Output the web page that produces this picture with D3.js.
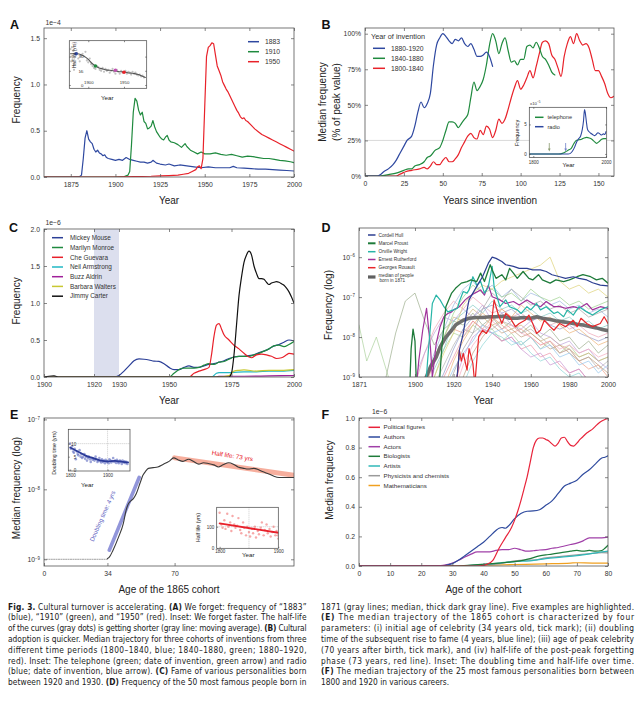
<!DOCTYPE html>
<html><head><meta charset="utf-8">
<script src="https://cdn.jsdelivr.net/npm/d3@7"></script>
<style>body{margin:0;background:#fff}</style>
</head><body>
<script>
// ================= DATA =================
// Panel A: frequency of year strings (units 1e-4)
const a1883 = [[1860,0],[1875,0],[1880,0.005],[1881,0.02],[1882,0.2],[1883,0.42],[1884,0.50],[1885,0.41],[1886,0.38],[1887,0.36],[1888,0.30],[1889,0.27],[1890,0.29],[1891,0.26],[1892,0.25],[1893,0.23],[1894,0.24],[1895,0.21],[1896,0.20],[1898,0.19],[1900,0.18],[1902,0.19],[1904,0.18],[1906,0.21],[1908,0.19],[1910,0.18],[1912,0.17],[1914,0.16],[1916,0.16],[1918,0.15],[1920,0.16],[1921,0.18],[1923,0.15],[1925,0.14],[1928,0.13],[1930,0.14],[1933,0.12],[1936,0.13],[1940,0.12],[1944,0.11],[1948,0.10],[1952,0.11],[1956,0.10],[1960,0.10],[1964,0.10],[1966,0.115],[1968,0.10],[1972,0.095],[1976,0.09],[1980,0.085],[1984,0.085],[1988,0.08],[1992,0.075],[1996,0.07],[2000,0.065]];
const a1910 = [[1860,0],[1900,0],[1905,0.005],[1907,0.02],[1908,0.06],[1909,0.35],[1910,0.70],[1911,0.85],[1912,0.82],[1913,0.72],[1914,0.67],[1915,0.70],[1916,0.60],[1917,0.58],[1918,0.52],[1919,0.53],[1920,0.55],[1921,0.61],[1922,0.54],[1923,0.49],[1924,0.46],[1925,0.43],[1926,0.41],[1927,0.40],[1928,0.43],[1929,0.45],[1930,0.40],[1931,0.38],[1933,0.37],[1935,0.35],[1937,0.32],[1939,0.36],[1940,0.33],[1942,0.29],[1944,0.27],[1946,0.25],[1948,0.27],[1950,0.25],[1953,0.25],[1956,0.26],[1959,0.245],[1962,0.235],[1965,0.245],[1968,0.23],[1971,0.215],[1974,0.225],[1977,0.22],[1980,0.21],[1983,0.20],[1986,0.20],[1989,0.19],[1992,0.18],[1995,0.175],[1998,0.165],[2000,0.155]];
const a1950 = [[1860,0],[1900,0],[1910,0.005],[1920,0.008],[1925,0.012],[1930,0.015],[1935,0.02],[1938,0.03],[1941,0.04],[1943,0.06],[1945,0.08],[1946,0.11],[1947,0.12],[1948,0.09],[1949,0.20],[1950,0.75],[1951,1.30],[1952,1.40],[1953,1.42],[1954,1.45],[1955,1.44],[1956,1.32],[1957,1.20],[1958,1.15],[1959,1.10],[1960,1.03],[1961,0.99],[1962,0.95],[1963,0.92],[1964,0.88],[1965,0.84],[1966,0.80],[1967,0.76],[1968,0.72],[1969,0.69],[1970,0.65],[1971,0.63],[1972,0.64],[1973,0.61],[1974,0.60],[1976,0.56],[1978,0.52],[1980,0.49],[1982,0.46],[1984,0.44],[1986,0.42],[1988,0.40],[1990,0.38],[1992,0.36],[1994,0.34],[1996,0.32],[1998,0.30],[2000,0.28]];
const aLabels = ["1883","1910","1950"];
// Panel A inset: half-life (yrs)
const aInsetDots = [[1875,38],[1877,40],[1879,36],[1876,30],[1878,27],[1880,22],[1881,33],[1884,34],[1886,28],[1888,25],[1890,31],[1892,33],[1894,30],[1896,35],[1898,26],[1900,24],[1902,28],[1904,22],[1906,20],[1908,18],[1910,17],[1912,20],[1914,19],[1916,16],[1918,15],[1920,18],[1922,14],[1924,17],[1926,15],[1928,16],[1930,13],[1932,15],[1934,17],[1936,14],[1938,12],[1940,16],[1942,14],[1944,12],[1946,15],[1948,13],[1952,15],[1954,12],[1956,14],[1958,13],[1960,11],[1962,14],[1964,12],[1966,13],[1968,11],[1970,10],[1972,11],[1974,9],[1976,10],[1978,8],[1880,16],[1890,14],[1876,25]];
const aInsetAvg = [[1875,33],[1885,33],[1890,32],[1895,30],[1900,27],[1905,23],[1910,20],[1915,18],[1920,17],[1925,16],[1930,15.5],[1935,15],[1940,14.5],[1945,14],[1950,14],[1955,13],[1960,12.5],[1965,12],[1970,11],[1975,9.5],[1980,8]];
const aInsetMarks = [[1883,33],[1910,20],[1938,15.5],[1950,13.5]];

// Panel B: % of peak value vs years since invention
const bBlue = [[0,0],[8,0],[10,1],[12,3],[15,5],[18,8],[20,11],[22,15],[25,21],[27,25],[30,28],[32,35],[34,45],[36,52],[38,48],[40,51],[42,58],[44,78],[46,92],[48,97],[50,100],[52,98],[54,95],[56,93],[58,96],[60,95],[62,97],[64,93],[66,91],[68,93],[70,89],[72,84],[74,84],[76,85],[78,87],[80,84],[82,77]];
const bGreen = [[0,0],[10,0],[15,1],[20,2],[25,4],[28,5],[30,5],[32,7],[35,8],[38,10],[40,13],[42,14],[45,18],[48,20],[50,25],[52,32],[54,38],[56,38],[58,37],[60,34],[62,37],[64,40],[66,43],[68,55],[70,66],[72,60],[74,63],[76,68],[78,78],[80,92],[82,100],[84,95],[86,86],[88,93],[90,97],[92,88],[94,80],[96,81],[98,78],[100,82],[102,82],[104,91],[106,92],[108,90],[110,94],[112,90],[114,84],[116,82],[118,78],[120,73],[122,71]];
const bRed = [[0,0],[20,0],[22,1],[24,2],[26,3],[30,4],[35,5],[38,6],[40,5],[42,7],[44,10],[46,8],[48,8],[50,11],[52,13],[54,10],[56,10],[58,12],[60,15],[62,20],[64,24],[66,28],[68,30],[70,27],[72,26],[74,32],[76,29],[78,35],[80,33],[82,27],[84,32],[86,40],[88,37],[90,40],[92,47],[94,55],[96,62],[98,67],[100,61],[102,64],[104,69],[106,74],[108,69],[110,77],[112,86],[114,94],[116,95],[118,93],[120,85],[122,82],[124,76],[126,70],[128,84],[130,93],[132,98],[134,93],[136,100],[138,95],[140,92],[142,93],[144,90],[146,82],[148,74],[150,74],[152,70],[154,65],[156,58],[158,55],[160,56]];
const bLabels = ["1880-1920","1840-1880","1800-1840"];
// Panel B inset (x1e-5)
const bTel = [[1790,0],[1870,0],[1880,0.1],[1887,0.3],[1895,0.6],[1905,1.0],[1912,1.8],[1919,2.3],[1926,2.4],[1933,2.5],[1940,2.7],[1947,2.8],[1954,2.7],[1961,2.5],[1968,2.1],[1974,1.8],[1981,2.1],[1988,2.5],[1994,2.6],[2000,2.6]];
const bRadio = [[1790,0],[1896,0],[1902,0.1],[1908,0.5],[1914,1.2],[1919,2.0],[1925,2.6],[1930,3.0],[1935,4.2],[1938,5.5],[1941,7.5],[1943,7.0],[1946,5.5],[1949,4.2],[1953,3.8],[1958,3.5],[1963,3.3],[1968,3.1],[1973,3.3],[1978,3.6],[1983,3.4],[1988,3.2],[1993,3.4],[1997,3.3],[2000,3.8]];
const bArrows = [1844,1889];

// Panel C (units 1e-6)
const cMickey = [[1900,0],[1928,0],[1930,0.02],[1932,0.08],[1934,0.15],[1936,0.22],[1938,0.245],[1940,0.24],[1942,0.23],[1944,0.215],[1946,0.21],[1948,0.18],[1950,0.13],[1952,0.10],[1954,0.10],[1956,0.13],[1958,0.15],[1960,0.13],[1962,0.13],[1964,0.15],[1966,0.17],[1968,0.18],[1970,0.20],[1972,0.22],[1974,0.25],[1976,0.27],[1978,0.28],[1980,0.28],[1982,0.29],[1984,0.30],[1986,0.33],[1988,0.35],[1990,0.38],[1992,0.42],[1994,0.44],[1996,0.47],[1998,0.50],[2000,0.49]];
const cMarilyn = [[1900,0],[1950,0],[1952,0.05],[1954,0.10],[1956,0.12],[1958,0.12],[1960,0.12],[1962,0.13],[1964,0.16],[1966,0.18],[1968,0.17],[1970,0.20],[1972,0.21],[1974,0.24],[1976,0.27],[1978,0.28],[1980,0.28],[1982,0.28],[1984,0.30],[1986,0.32],[1988,0.35],[1990,0.38],[1992,0.42],[1994,0.43],[1996,0.41],[1998,0.44],[2000,0.48]];
const cChe = [[1900,0],[1958,0],[1960,0.05],[1962,0.08],[1964,0.10],[1966,0.13],[1967,0.30],[1968,0.55],[1969,0.70],[1970,0.72],[1971,0.65],[1972,0.57],[1974,0.50],[1976,0.43],[1978,0.38],[1980,0.32],[1982,0.27],[1983,0.26],[1985,0.30],[1987,0.31],[1989,0.30],[1991,0.28],[1993,0.25],[1995,0.26],[1997,0.30],[1998,0.32],[2000,0.31]];
const cNeil = [[1900,0],[1967,0],[1969,0.05],[1970,0.06],[1975,0.06],[1980,0.07],[1985,0.07],[1990,0.08],[1995,0.08],[2000,0.09]];
const cBuzz = [[1900,0],[1969,0],[1970,0.01],[1980,0.01],[1990,0.015],[2000,0.02]];
const cBarbara = [[1900,0],[1970,0],[1974,0.02],[1976,0.08],[1978,0.09],[1980,0.095],[1985,0.08],[1990,0.09],[1995,0.09],[2000,0.10]];
const cJimmy = [[1900,0],[1902,0.01],[1904,0.015],[1906,0],[1974,0],[1975,0.05],[1976,0.3],[1977,0.7],[1978,1.1],[1979,1.35],[1980,1.55],[1981,1.65],[1982,1.70],[1983,1.65],[1984,1.50],[1985,1.40],[1986,1.33],[1987,1.33],[1988,1.32],[1989,1.28],[1990,1.25],[1991,1.27],[1992,1.28],[1993,1.29],[1994,1.28],[1995,1.26],[1996,1.24],[1997,1.20],[1998,1.15],[1999,1.08],[2000,1.00]];
const cNames = ["Mickey Mouse","Marilyn Monroe","Che Guevara","Neil Armstrong","Buzz Aldrin","Barbara Walters","Jimmy Carter"];
const cBand = [1920,1930];

// Panel D (log10 of frequency)
const yearsD = [1871,1875,1880,1885,1890,1895,1900,1905,1910,1915,1920,1925,1930,1935,1940,1945,1950,1955,1960,1965,1970,1975,1980,1985,1990,1995,2000];
const dBg1 = [-7.7,-8.6,-8.0,-8.8,-9.6,-9.6,-9.6,-9.6,-9.0,-8.3,-7.9,-8.0,-7.7,-7.9,-7.8,-8.1,-7.9,-8.2,-8.0,-8.3,-8.1,-8.4,-8.2,-8.5,-8.4,-8.6,-8.5];
const dBg2 = [-9.6,-9.6,-9.6,-9.0,-7.9,-7.1,-6.9,-7.6,-8.2,-7.8,-7.6,-7.7,-7.4,-7.7,-7.5,-7.8,-7.6,-7.9,-7.7,-8.0,-7.8,-8.1,-8.0,-8.3,-8.1,-8.4,-8.2];
const dBg3 = [-9.6,-9.6,-9.6,-9.6,-9.6,-9.6,-9.2,-8.4,-7.8,-7.4,-7.1,-7.3,-7.0,-7.2,-7.4,-7.3,-7.5,-7.4,-7.6,-7.5,-7.7,-7.6,-7.8,-7.7,-7.9,-8.0,-7.9];
const dBg4 = [-9.6,-9.6,-9.6,-9.6,-9.6,-9.6,-9.6,-9.1,-8.4,-7.8,-7.2,-6.8,-6.6,-6.9,-6.7,-7.0,-6.8,-7.1,-6.9,-7.0,-7.2,-7.1,-7.3,-7.2,-7.4,-7.3,-7.5];
const dBg5 = [-9.6,-9.6,-9.6,-9.6,-9.6,-9.6,-9.6,-9.1,-8.5,-8.0,-7.5,-7.6,-7.3,-7.5,-7.7,-7.6,-7.8,-7.7,-7.9,-8.1,-8.0,-8.2,-8.3,-8.5,-8.4,-8.6,-8.5];
const dBg6 = [-9.6,-9.6,-9.6,-9.6,-9.6,-9.6,-9.0,-8.4,-7.9,-7.5,-7.6,-7.3,-7.5,-7.2,-7.6,-7.4,-7.7,-7.8,-7.6,-7.9,-8.0,-8.2,-8.1,-8.4,-8.3,-8.6,-8.8];
const dBg7 = [-9.6,-9.6,-9.6,-9.6,-9.6,-9.6,-9.6,-9.6,-9.0,-8.4,-7.9,-7.2,-6.9,-6.7,-6.8,-6.6,-6.5,-6.4,-6.3,-6.2,-6.0,-6.6,-6.8,-6.7,-6.9,-6.8,-7.0];
const dBg8 = [-9.6,-9.6,-9.6,-9.6,-9.6,-9.6,-9.6,-9.3,-8.6,-8.1,-7.8,-7.9,-7.6,-7.8,-7.5,-7.7,-7.9,-7.8,-8.0,-8.2,-8.1,-8.4,-8.3,-8.6,-8.8,-8.7,-9.0];
const dBg9 = [-9.6,-9.6,-9.6,-9.6,-9.6,-9.6,-9.6,-9.6,-9.2,-8.7,-8.2,-7.8,-7.9,-7.7,-7.8,-7.6,-7.7,-7.9,-7.8,-8.0,-8.2,-8.4,-8.3,-8.6,-8.5,-8.8,-8.6];
const dBg10 = [-9.6,-9.6,-9.6,-9.6,-9.6,-9.6,-9.6,-9.5,-8.8,-8.3,-7.6,-7.4,-7.2,-7.4,-7.1,-7.3,-7.2,-7.4,-7.3,-7.5,-7.4,-7.6,-7.5,-7.7,-7.6,-7.8,-7.7];
const dBg11 = [-9.6,-9.6,-9.6,-9.6,-9.6,-9.6,-9.6,-9.6,-9.6,-9.0,-8.5,-8.0,-7.6,-7.8,-7.9,-8.1,-8.0,-8.3,-8.2,-8.5,-8.4,-8.7,-8.9,-8.8,-9.1,-9.0,-9.3];
const dBg12 = [-9.6,-9.6,-9.6,-9.6,-9.6,-9.6,-9.6,-9.6,-9.4,-8.9,-8.3,-7.8,-7.5,-7.3,-7.2,-7.4,-7.3,-7.5,-7.6,-7.5,-7.7,-7.8,-7.7,-7.9,-8.0,-8.1,-8.0];
const dBg13 = [-9.6,-9.6,-9.6,-9.6,-9.6,-9.6,-9.6,-9.6,-9.6,-9.3,-8.6,-8.1,-7.7,-7.4,-7.6,-7.3,-7.5,-7.2,-7.4,-7.6,-7.5,-7.7,-7.9,-7.8,-8.0,-8.2,-8.1];
const dBg14 = [-9.6,-9.6,-9.6,-9.6,-9.6,-9.6,-9.6,-9.2,-8.5,-8.0,-7.4,-7.0,-6.7,-6.9,-6.8,-7.0,-6.9,-7.1,-6.8,-7.0,-7.1,-7.0,-7.2,-7.1,-7.3,-7.2,-7.1];
const dBg15 = [-9.6,-9.6,-9.6,-9.6,-9.6,-9.6,-9.6,-9.6,-9.6,-9.6,-9.2,-8.5,-8.0,-7.8,-7.9,-8.1,-8.0,-8.3,-8.5,-8.4,-8.7,-8.6,-8.9,-8.8,-9.1,-9.4,-9.2];
const dBg16 = [-9.6,-9.6,-9.6,-9.6,-9.6,-9.6,-9.6,-9.6,-9.6,-9.6,-9.6,-9.0,-8.4,-8.0,-7.7,-7.9,-7.8,-8.0,-7.9,-8.1,-8.3,-8.2,-8.4,-8.6,-8.5,-8.7,-8.9];
const dBg17 = [-9.6,-9.6,-9.6,-9.6,-9.6,-9.6,-9.6,-9.6,-9.6,-9.3,-8.8,-8.4,-8.1,-7.7,-7.9,-7.8,-8.1,-8.2,-8.0,-8.3,-8.2,-8.5,-8.4,-8.7,-8.6,-8.9,-8.7];
const dBg18 = [-9.6,-9.6,-9.6,-9.6,-9.6,-9.6,-9.6,-9.6,-9.6,-9.6,-9.4,-8.7,-8.2,-7.9,-7.6,-7.8,-7.7,-7.9,-8.0,-8.2,-8.1,-8.3,-8.2,-8.4,-8.3,-8.5,-8.4];
const dBg19 = [-9.6,-9.6,-9.6,-9.6,-9.6,-9.6,-9.6,-9.6,-9.6,-9.5,-8.9,-8.3,-7.9,-7.3,-6.9,-7.1,-6.8,-7.0,-7.2,-7.1,-7.3,-7.2,-7.4,-7.3,-7.5,-7.4,-7.3];
const dBg20 = [-9.6,-9.6,-9.6,-9.6,-9.6,-9.6,-9.6,-9.6,-9.6,-9.6,-9.6,-9.2,-8.6,-8.2,-7.9,-8.0,-8.2,-8.1,-8.4,-8.6,-8.5,-8.8,-9.0,-8.9,-9.2,-9.1,-9.4];
const dHull = [[1871,-9.6],[1920,-9.6],[1922,-8.9],[1923,-8.33],[1925,-7.91],[1927,-7.32],[1928,-7.07],[1930,-6.9],[1933,-6.65],[1935,-6.49],[1938,-6.15],[1940,-6.0],[1942,-6.03],[1945,-6.11],[1947,-6.19],[1951,-6.23],[1954,-6.28],[1958,-6.28],[1961,-6.32],[1965,-6.32],[1968,-6.36],[1971,-6.44],[1975,-6.49],[1978,-6.53],[1982,-6.49],[1985,-6.53],[1989,-6.57],[1992,-6.64],[1996,-6.7],[2000,-6.72]];
const dProust = [[1871,-9.6],[1897,-9.6],[1898,-8.3],[1899,-7.8],[1900,-8.1],[1901,-9.6],[1912,-9.6],[1914,-8.2],[1916,-7.24],[1919,-6.9],[1921,-6.78],[1924,-6.65],[1927,-6.61],[1929,-6.57],[1932,-6.61],[1934,-6.4],[1936,-6.61],[1939,-6.19],[1940,-6.32],[1942,-6.53],[1945,-6.44],[1947,-6.57],[1949,-6.28],[1951,-6.4],[1953,-6.53],[1956,-6.36],[1959,-6.53],[1961,-6.57],[1964,-6.44],[1966,-6.57],[1970,-6.65],[1973,-6.57],[1977,-6.61],[1980,-6.57],[1984,-6.49],[1987,-6.44],[1991,-6.49],[1994,-6.57],[1997,-6.53],[2000,-6.65]];
const dWright = [[1871,-9.6],[1905,-9.6],[1907,-8.3],[1908,-7.74],[1909,-7.16],[1911,-6.95],[1913,-7.07],[1915,-7.24],[1917,-7.37],[1920,-7.32],[1922,-7.28],[1923,-7.11],[1925,-6.86],[1927,-6.9],[1928,-6.82],[1930,-6.49],[1932,-6.7],[1934,-6.61],[1936,-6.9],[1938,-6.74],[1940,-6.23],[1941,-6.74],[1944,-7.24],[1947,-7.07],[1949,-7.24],[1953,-7.32],[1955,-7.41],[1958,-7.24],[1960,-7.32],[1963,-7.16],[1965,-7.32],[1968,-7.24],[1972,-7.41],[1974,-7.37],[1977,-7.49],[1979,-7.32],[1982,-7.45],[1985,-7.24],[1989,-7.37],[1992,-7.45],[1996,-7.32],[2000,-7.24]];
const dRuth = [[1871,-9.6],[1900,-9.6],[1902,-8.58],[1904,-7.83],[1906,-7.28],[1908,-8.25],[1909,-9.0],[1910,-8.6],[1911,-8.16],[1913,-7.74],[1915,-7.49],[1917,-7.41],[1919,-7.37],[1920,-7.32],[1923,-7.24],[1926,-7.07],[1928,-6.99],[1931,-6.9],[1934,-6.82],[1936,-6.95],[1938,-6.7],[1940,-6.99],[1944,-7.07],[1947,-7.16],[1951,-7.11],[1954,-7.2],[1958,-7.07],[1961,-7.16],[1965,-7.24],[1968,-7.11],[1972,-7.24],[1975,-7.24],[1978,-7.28],[1982,-7.24],[1985,-7.28],[1989,-7.16],[1992,-7.32],[1996,-7.24],[2000,-7.28]];
const dRouault = [[1871,-9.6],[1921,-9.6],[1923,-8.33],[1924,-8.6],[1925,-8.41],[1927,-8.83],[1928,-8.29],[1930,-8.66],[1931,-9.2],[1933,-7.99],[1935,-7.83],[1937,-7.91],[1939,-7.74],[1940,-7.49],[1941,-7.07],[1943,-7.41],[1945,-7.66],[1947,-7.41],[1949,-7.49],[1952,-7.74],[1954,-7.66],[1957,-7.58],[1959,-7.45],[1961,-7.66],[1963,-7.91],[1965,-7.83],[1967,-7.58],[1970,-7.74],[1972,-7.83],[1975,-7.66],[1978,-7.74],[1982,-7.58],[1984,-7.74],[1986,-7.53],[1989,-7.66],[1992,-7.74],[1996,-7.66],[1998,-7.49],[2000,-7.66]];
const dMedian = [[1905,-9.1],[1908,-8.75],[1911,-8.5],[1913,-8.25],[1916,-8.0],[1919,-7.83],[1921,-7.7],[1925,-7.58],[1928,-7.53],[1932,-7.51],[1935,-7.51],[1939,-7.49],[1942,-7.49],[1946,-7.48],[1949,-7.53],[1953,-7.53],[1956,-7.51],[1960,-7.53],[1963,-7.49],[1966,-7.53],[1970,-7.56],[1973,-7.59],[1977,-7.62],[1980,-7.64],[1984,-7.68],[1987,-7.7],[1991,-7.74],[1994,-7.77],[1997,-7.81],[2000,-7.84]];
const dNames = ["Cordell Hull","Marcel Proust","Orville Wright","Ernest Rutherford","Georges Rouault"];

// Panel E (log10 of median frequency vs age)
const eCurve = [[34,-8.99],[35,-8.97],[37,-8.87],[40,-8.68],[42.5,-8.49],[44,-8.3],[45,-8.22],[46,-8.18],[48,-8.13],[49.5,-8.06],[51.5,-7.91],[53,-7.8],[54.5,-7.74],[56,-7.70],[58.5,-7.69],[61,-7.68],[64,-7.64],[67,-7.60],[69.5,-7.55],[72,-7.58],[74.5,-7.60],[77.5,-7.57],[80,-7.60],[83,-7.64],[85.5,-7.62],[88,-7.63],[91,-7.65],[93.5,-7.68],[96,-7.65],[99,-7.62],[101.5,-7.64],[104,-7.68],[107,-7.70],[109.5,-7.71],[112.5,-7.70],[115,-7.72],[117.5,-7.75],[120.5,-7.78],[123,-7.81],[126,-7.83],[128.5,-7.83],[134,-7.83]];
const eBase = [[0,-9.0],[34,-9.0]];
const eDoubling = [[35,-8.87],[51,-7.83]];
const eHalfLife = [[70,-7.55],[134,-7.80]];
const eTicks = [0,34,70];
const eInsetDoubDots = [[1800,10],[1802,8],[1805,9],[1808,7],[1810,6.5],[1812,8],[1815,4],[1818,7],[1820,6],[1822,5.5],[1825,7.5],[1828,5],[1830,6],[1832,4.5],[1835,5],[1838,6],[1840,4.2],[1843,5],[1845,3.5],[1848,4.5],[1850,5],[1853,4],[1855,3],[1858,4.5],[1860,3.8],[1863,4.2],[1865,3.5],[1868,5],[1870,4],[1873,3],[1875,3.5],[1878,4.5],[1880,3.3],[1883,2.8],[1885,4],[1888,3],[1890,3.5],[1893,2.5],[1895,3.8],[1898,3],[1900,3.2],[1903,2.5],[1905,4],[1908,3.5],[1910,2.8],[1913,3.3],[1915,4.5],[1918,3],[1920,3.5],[1923,2.6],[1925,3.8],[1928,3],[1930,2.5],[1933,3.5],[1935,3],[1938,2.2],[1940,3.5],[1943,2.8],[1945,3.2],[1948,2.5],[1950,3],[1953,2.2]];
const eInsetDoubFit = [[1800,8.5],[1820,7],[1840,5.5],[1860,4.5],[1880,3.6],[1900,3.2],[1920,3.4],[1940,3.0],[1955,2.8]];
const eInsetHalfDots = [[1800,165],[1803,110],[1805,95],[1808,130],[1810,90],[1813,160],[1815,100],[1818,120],[1820,80],[1822,150],[1825,110],[1827,95],[1830,105],[1832,140],[1835,85],[1837,70],[1840,120],[1842,95],[1845,60],[1847,100],[1850,75],[1852,55],[1855,90],[1857,70],[1860,100],[1862,50],[1865,80],[1867,65],[1870,95],[1872,120],[1875,60],[1877,85],[1880,110],[1882,70],[1885,90],[1887,55],[1890,75],[1892,100],[1895,60],[1897,80],[1899,60],[1900,45]];
const eInsetHalfFit = [[1800,115],[1900,72]];

// Panel F (units 1e-6)
const fPol = [[0,0],[38,0],[40,0.005],[41,0.011],[43,0.038],[45,0.12],[47,0.19],[49,0.26],[50,0.31],[51,0.37],[52,0.44],[53,0.52],[54,0.60],[55,0.70],[56,0.80],[57,0.85],[58,0.865],[59,0.865],[60,0.855],[61,0.845],[62,0.825],[63,0.81],[64,0.83],[65,0.865],[66,0.87],[67,0.84],[68,0.815],[69,0.81],[70,0.83],[71,0.855],[72,0.875],[73,0.895],[74,0.91],[75,0.925],[76,0.945],[77,0.965],[78,0.98],[79,0.99],[80,0.995]];
const fAuth = [[0,0],[26,0],[28,0.005],[30,0.016],[32,0.04],[34,0.07],[36,0.1],[38,0.13],[40,0.16],[42,0.2],[44,0.24],[45,0.255],[46,0.26],[47,0.255],[48,0.27],[50,0.32],[52,0.355],[54,0.37],[56,0.372],[58,0.38],[60,0.41],[62,0.44],[64,0.49],[66,0.54],[68,0.56],[70,0.58],[72,0.62],[74,0.65],[76,0.69],[78,0.73],[79,0.735],[80,0.745]];
const fAct = [[0,0],[24,0],[27,0.005],[30,0.02],[33,0.05],[36,0.08],[38,0.095],[40,0.095],[42,0.095],[44,0.105],[46,0.11],[48,0.11],[50,0.12],[52,0.11],[54,0.1],[56,0.103],[58,0.108],[60,0.11],[62,0.12],[64,0.125],[66,0.135],[68,0.145],[70,0.155],[72,0.17],[74,0.19],[76,0.19],[78,0.19],[80,0.195]];
const fBio = [[0,0],[30,0],[35,0.005],[40,0.012],[45,0.02],[50,0.03],[53,0.04],[55,0.05],[58,0.068],[60,0.075],[62,0.08],[65,0.09],[68,0.1],[70,0.105],[72,0.1],[74,0.105],[76,0.1],[78,0.105],[79,0.12],[80,0.14]];
const fArt = [[0,0],[32,0],[38,0.008],[45,0.02],[50,0.03],[55,0.035],[60,0.05],[65,0.06],[70,0.07],[75,0.085],[78,0.095],[80,0.1]];
const fPhys = [[0,0],[32,0],[40,0.008],[45,0.015],[50,0.035],[53,0.04],[56,0.04],[60,0.055],[65,0.065],[70,0.075],[75,0.085],[78,0.09],[80,0.088]];
const fMath = [[0,0],[35,0],[40,0.005],[50,0.01],[60,0.015],[68,0.02],[70,0.022],[75,0.02],[80,0.02]];
const fNames = ["Political figures","Authors","Actors","Biologists","Artists","Physicists and chemists","Mathematicians"];

// Caption
const capLeft = [
 "**Fig. 3.** Cultural turnover is accelerating. **(A)** We forget: frequency of “1883”",
 "(blue), “1910” (green), and “1950” (red). Inset: We forget faster. The half-life",
 "of the curves (gray dots) is getting shorter (gray line: moving average). **(B)** Cultural",
 "adoption is quicker. Median trajectory for three cohorts of inventions from three",
 "different time periods (1800–1840, blue; 1840–1880, green; 1880–1920,",
 "red). Inset: The telephone (green; date of invention, green arrow) and radio",
 "(blue; date of invention, blue arrow). **(C)** Fame of various personalities born",
 "between 1920 and 1930. **(D)** Frequency of the 50 most famous people born in"];
const capRight = [
 "1871 (gray lines; median, thick dark gray line). Five examples are highlighted.",
 "**(E)** The median trajectory of the 1865 cohort is characterized by four",
 "parameters: (i) initial age of celebrity (34 years old, tick mark); (ii) doubling",
 "time of the subsequent rise to fame (4 years, blue line); (iii) age of peak celebrity",
 "(70 years after birth, tick mark), and (iv) half-life of the post-peak forgetting",
 "phase (73 years, red line). Inset: The doubling time and half-life over time.",
 "**(F)** The median trajectory of the 25 most famous personalities born between",
 "1800 and 1920 in various careers."];

// ================= DRAWING =================
const FF = "'Liberation Sans', Arial, Helvetica, sans-serif";
const svg = d3.select("body").append("svg").attr("width",643).attr("height",708)
  .style("background","#fff");
const defs = svg.append("defs");
let clipN = 0;
const P10 = v => Math.pow(10, v);

function txt(x, y, s, o = {}) {
  const t = svg.append("text").attr("x", x).attr("y", y)
    .attr("font-family", o.ff || FF).attr("font-size", o.fs || 10)
    .attr("fill", o.fill || "#222").attr("text-anchor", o.anchor || "start").text(s);
  if (o.rot != null) t.attr("transform", `rotate(${o.rot},${x},${y})`);
  if (o.bold) t.attr("font-weight", "bold");
  return t;
}
function vtitle(xc, yc, s, fs = 10) { return txt(xc + 0.36 * fs, yc, s, {fs, anchor: "middle", rot: -90}); }

function clipGroup(box) {
  const id = "clip" + (clipN++);
  defs.append("clipPath").attr("id", id).append("rect")
    .attr("x", box.x0).attr("y", box.y0).attr("width", box.x1 - box.x0).attr("height", box.y1 - box.y0);
  return svg.append("g").attr("clip-path", `url(#${id})`);
}
function styleAxis(a, fs) {
  a.select(".domain").remove();
  a.selectAll(".tick line").attr("stroke", "#555").attr("stroke-width", 0.7);
  a.selectAll("text").attr("font-size", fs).attr("fill", "#333").attr("font-family", FF);
  return a;
}
function axes(box, x, y, o) {
  const fs = o.fs || 6.8, tl = o.tl == null ? 3 : o.tl;
  const g = svg.append("g");
  const bottom = styleAxis(g.append("g").attr("transform", `translate(0,${box.y1})`)
    .call(d3.axisBottom(x).tickValues(o.xt).tickFormat(o.xf || (d => d)).tickSizeInner(-tl).tickSizeOuter(0).tickPadding(o.xpad == null ? 5 : o.xpad)), fs);
  const left = styleAxis(g.append("g").attr("transform", `translate(${box.x0},0)`)
    .call(d3.axisLeft(y).tickValues(o.yt).tickFormat(o.yf || (d => d)).tickSizeInner(-tl).tickSizeOuter(0).tickPadding(o.ypad == null ? 4 : o.ypad)), fs);
  if (!o.noTopRight) {
    styleAxis(g.append("g").attr("transform", `translate(0,${box.y0})`)
      .call(d3.axisTop(x).tickValues(o.xt).tickFormat("").tickSizeInner(-tl).tickSizeOuter(0)), fs);
    styleAxis(g.append("g").attr("transform", `translate(${box.x1},0)`)
      .call(d3.axisRight(y).tickValues(o.yt).tickFormat("").tickSizeInner(-tl).tickSizeOuter(0)), fs);
  }
  g.append("rect").attr("x", box.x0).attr("y", box.y0).attr("width", box.x1 - box.x0).attr("height", box.y1 - box.y0)
    .attr("fill", "none").attr("stroke", o.frame || "#555").attr("stroke-width", o.fw || 0.8);
  return {bottom, left};
}
function superLabels(axisG) {
  axisG.selectAll(".tick text").each(function(d) {
    const t = d3.select(this); t.text("10");
    t.append("tspan").attr("dy", "-0.55em").attr("font-size", "0.65em").text("−" + Math.round(-Math.log10(d)));
  });
}
const lineGen = (x, y, curve) => d3.line().x(d => x(d[0])).y(d => y(d[1])).curve(curve || d3.curveLinear);
function path(g, data, gen, color, w, extra = {}) {
  const p = g.append("path").datum(data).attr("d", gen).attr("fill", "none").attr("stroke", color)
    .attr("stroke-width", w).attr("stroke-linejoin", "round").attr("stroke-linecap", "round");
  for (const k in extra) p.attr(k, extra[k]);
  return p;
}
function legend(x0, x1, tx, rows, items, fs, lw) {
  items.forEach((it, i) => {
    svg.append("line").attr("x1", x0).attr("x2", x1).attr("y1", rows[i]).attr("y2", rows[i])
      .attr("stroke", it[1]).attr("stroke-width", it[2] || lw);
    txt(tx, rows[i] + fs * 0.35, it[0], {fs, fill: "#333"});
  });
}
const BLUE = "#2e48a0", GREEN = "#1f8a3e", RED = "#e8222a";

// ---------- Panel A ----------
{
  const box = {x0: 44, x1: 294, y0: 28, y1: 177};
  const x = d3.scaleLinear().domain([1860, 2000]).range([box.x0, box.x1]);
  const y = d3.scaleLinear().domain([0, 1.61]).range([box.y1, box.y0]);
  const g = clipGroup(box);
  const gen = lineGen(x, y);
  path(g, a1883, gen, BLUE, 1.2);
  path(g, a1910, gen, GREEN, 1.2);
  path(g, a1950, gen, RED, 1.2);
  axes(box, x, y, {xt: [1875, 1900, 1925, 1950, 1975, 2000], yt: [0, 0.5, 1.0, 1.5], yf: d3.format(".1f")});
  txt(45.5, 25, "1e−4", {fs: 6.8, fill: "#333"});
  txt(10, 29, "A", {fs: 12.5, bold: true, fill: "#111"});
  vtitle(16, 100, "Frequency");
  txt(169, 203.5, "Year", {anchor: "middle"});
  legend(248, 259, 265, [41.7, 51.7, 61.7], [[aLabels[0], BLUE], [aLabels[1], GREEN], [aLabels[2], RED]], 6.8, 1.5);
  // inset
  const ib = {x0: 69.3, x1: 146.7, y0: 40.7, y1: 88.3};
  svg.append("rect").attr("x", ib.x0).attr("y", ib.y0).attr("width", ib.x1 - ib.x0).attr("height", ib.y1 - ib.y0).attr("fill", "#fff");
  const ix = d3.scaleLinear().domain([1873.4, 1981.8]).range([ib.x0, ib.x1]);
  const iy = d3.scaleLinear().domain([-3.5, 46.8]).range([ib.y1, ib.y0]);
  const ig = clipGroup(ib);
  ig.selectAll("circle.d").data(aInsetDots).join("circle").attr("cx", d => ix(d[0])).attr("cy", d => iy(d[1]))
    .attr("r", 1.1).attr("fill", "#9a9a9a").attr("opacity", 0.6);
  path(ig, aInsetAvg, lineGen(ix, iy, d3.curveMonotoneX), "#555", 1.1);
  const mc = [BLUE, GREEN, "#c04fb0", RED];
  ig.selectAll("circle.m").data(aInsetMarks).join("circle").attr("cx", d => ix(d[0])).attr("cy", d => iy(d[1]))
    .attr("r", 1.8).attr("fill", (d, i) => mc[i]);
  axes(ib, ix, iy, {xt: [1900, 1950], yt: [0, 15, 30], fs: 4.3, tl: 1.5, xpad: -7.5, ypad: -14, frame: "#444", fw: 0.7});
  txt(107.3, 99.5, "Year", {fs: 6.2, anchor: "middle"});
  vtitle(74, 55, "Half-life (yrs)", 4.6);
}

// ---------- Panel B ----------
{
  const box = {x0: 365, x1: 614, y0: 28, y1: 176};
  const x = d3.scaleLinear().domain([0, 160]).range([box.x0, box.x1]);
  const y = d3.scaleLinear().domain([0, 104]).range([box.y1, box.y0]);
  const g = clipGroup(box);
  g.append("line").attr("x1", box.x0).attr("x2", box.x1).attr("y1", y(25)).attr("y2", y(25)).attr("stroke", "#cfcfcf").attr("stroke-width", 0.8);
  const gen = lineGen(x, y, d3.curveMonotoneX);
  path(g, bRed, gen, RED, 1.2);
  path(g, bGreen, gen, GREEN, 1.2);
  path(g, bBlue, gen, BLUE, 1.2);
  axes(box, x, y, {xt: [0, 25, 50, 75, 100, 125, 150], yt: [0, 25, 50, 75, 100], yf: d => d + "%"});
  txt(321.5, 29, "B", {fs: 12.5, bold: true, fill: "#111"});
  vtitle(322, 102, "Median frequency");
  vtitle(336, 102, "(% of peak value)");
  txt(490, 203.5, "Years since invention", {anchor: "middle"});
  txt(371, 38.6, "Year of invention", {fs: 7.3, fill: "#333"});
  legend(373, 385, 391, [48.3, 58.3, 68.3], [[bLabels[0], BLUE], [bLabels[1], GREEN], [bLabels[2], RED]], 6.8, 1.5);
  // inset
  const ib = {x0: 529.3, x1: 606.7, y0: 107.3, y1: 157.5};
  svg.append("rect").attr("x", ib.x0).attr("y", ib.y0).attr("width", ib.x1 - ib.x0).attr("height", ib.y1 - ib.y0).attr("fill", "#fff");
  const ix = d3.scaleLinear().domain([1789, 2002]).range([ib.x0, ib.x1]);
  const iy = d3.scaleLinear().domain([-0.6, 7.9]).range([ib.y1, ib.y0]);
  const ig = clipGroup(ib);
  const igen = lineGen(ix, iy, d3.curveMonotoneX);
  path(ig, bTel, igen, GREEN, 1.1);
  path(ig, bRadio, igen, BLUE, 1.1);
  bArrows.forEach((yr, i) => {
    const c = i === 0 ? "#8a9a70" : "#7080c8";
    ig.append("line").attr("x1", ix(yr)).attr("x2", ix(yr)).attr("y1", 143).attr("y2", 150).attr("stroke", c).attr("stroke-width", 0.8);
    ig.append("path").attr("d", `M${ix(yr) - 1.3},148.5 L${ix(yr) + 1.3},148.5 L${ix(yr)},151.5 Z`).attr("fill", c);
  });
  axes(ib, ix, iy, {xt: [1800, 2000], yt: [0, 5], fs: 4.5, tl: 1.5, xpad: 3, ypad: 2.5, frame: "#444", fw: 0.7});
  const xl = txt(530, 105, "x10", {fs: 4.3, fill: "#333"});
  xl.append("tspan").attr("dy", "-0.5em").attr("font-size", "0.7em").text("−5");
  txt(568.5, 167, "Year", {fs: 6, anchor: "middle"});
  vtitle(516.5, 133, "Frequency", 5.6);
  legend(535, 543.5, 547.5, [117.3, 126.7], [["telephone", GREEN], ["radio", BLUE]], 5.6, 1.5);
}

// ---------- Panel C ----------
{
  const box = {x0: 44, x1: 294, y0: 229, y1: 377};
  const x = d3.scaleLinear().domain([1900, 2000]).range([box.x0, box.x1]);
  const y = d3.scaleLinear().domain([0, 2.0]).range([box.y1, box.y0]);
  const g = clipGroup(box);
  g.append("rect").attr("x", x(cBand[0])).attr("width", x(cBand[1]) - x(cBand[0])).attr("y", box.y0).attr("height", box.y1 - box.y0).attr("fill", "#dcdfee");
  const gen = lineGen(x, y, d3.curveMonotoneX);
  const cCols = ["#2b3f97", "#1f8a3f", "#e8202a", "#22b8c4", "#a0209a", "#c8c832", "#111111"];
  [cMickey, cMarilyn, cChe, cNeil, cBuzz, cBarbara, cJimmy].forEach((d, i) => path(g, d, gen, cCols[i], 1.2));
  axes(box, x, y, {xt: [1900, 1920, 1930, 1950, 1975, 2000], yt: [0, 0.5, 1.0, 1.5, 2.0], yf: d3.format(".1f")});
  txt(45.5, 225, "1e−6", {fs: 6.8, fill: "#333"});
  txt(9, 232, "C", {fs: 12.5, bold: true, fill: "#111"});
  vtitle(16, 301, "Frequency");
  txt(169, 403.5, "Year", {anchor: "middle"});
  const rows = [237.7, 247.5, 257.3, 267, 276.7, 286.4, 296.2];
  legend(52, 63, 70, rows, cNames.map((n, i) => [n, cCols[i]]), 6.4, 1.5);
}

// ---------- Panel D ----------
{
  const box = {x0: 359, x1: 608, y0: 228, y1: 377};
  const x = d3.scaleLinear().domain([1871, 2000]).range([box.x0, box.x1]);
  const y = d3.scaleLog().domain([1e-9, P10(-5.27)]).range([box.y1, box.y0]);
  const g = clipGroup(box);
  const gen = d3.line().x(d => x(d[0])).y(d => y(P10(d[1])));
  const bgCols = ["#a9d098", "#98aa88", "#eca0b4", "#98b4e0", "#d0b47c", "#bca0d8", "#dcd070", "#ec9a80", "#b0b0b0", "#80c8c0", "#ec90a4", "#9098c8", "#ecb070", "#98d088", "#c890d0", "#bc9878", "#90c4ec", "#f4a8bc", "#a0a0a0", "#88d4d4"];
  [dBg1, dBg2, dBg3, dBg4, dBg5, dBg6, dBg7, dBg8, dBg9, dBg10, dBg11, dBg12, dBg13, dBg14, dBg15, dBg16, dBg17, dBg18, dBg19, dBg20]
    .forEach((s, i) => path(g, yearsD.slice(0, s.length).map((yr, k) => [yr, s[k]]), gen, bgCols[i], 0.8, {opacity: 0.85}));
  path(g, dMedian, gen, "#606060", 3.6, {opacity: 0.9});
  const dCols = ["#2c3e91", "#1e7b3a", "#27b5a7", "#a0329a", "#e8262a"];
  path(g, dRouault, gen, dCols[4], 1.2);
  path(g, dRuth, gen, dCols[3], 1.2);
  path(g, dWright, gen, dCols[2], 1.2);
  path(g, dProust, gen, dCols[1], 1.3);
  path(g, dHull, gen, dCols[0], 1.2);
  const a = axes(box, x, y, {xt: [1871, 1900, 1920, 1940, 1960, 1980, 2000], yt: [1e-9, 1e-8, 1e-7, 1e-6]});
  superLabels(a.left);
  txt(321.5, 232, "D", {fs: 12.5, bold: true, fill: "#111"});
  vtitle(328, 305, "Frequency (log)");
  txt(483.5, 403.5, "Year", {anchor: "middle"});
  legend(368, 375.5, 378.5, [235, 243.3, 251.7, 259.5, 267.7], dNames.map((n, i) => [n, dCols[i], i === 1 ? 2 : 1.5]), 4.8, 1.5);
  svg.append("line").attr("x1", 368).attr("x2", 375.5).attr("y1", 277).attr("y2", 277).attr("stroke", "#606060").attr("stroke-width", 3.2);
  txt(378.5, 276.5, "median of people", {fs: 4.6, fill: "#333"});
  txt(379.5, 281.5, "born in 1871", {fs: 4.6, fill: "#333"});
}

// ---------- Panel E ----------
{
  const box = {x0: 44, x1: 294, y0: 418, y1: 566};
  const x = d3.scaleLinear().domain([0, 134]).range([box.x0, box.x1]);
  const y = d3.scaleLog().domain([P10(-9.096), P10(-6.98)]).range([box.y1, box.y0]);
  const g = clipGroup(box);
  const gen = d3.line().x(d => x(d[0])).y(d => y(P10(d[1])));
  path(g, eBase, gen, "#777", 0.7, {"stroke-dasharray": "1.2,1.2"});
  path(g, eHalfLife, gen, "#f4a08c", 5, {opacity: 0.85});
  path(g, eDoubling, gen, "#7f84d4", 3.6, {opacity: 0.85});
  path(g, eCurve, d3.line().x(d => x(d[0])).y(d => y(P10(d[1]))).curve(d3.curveMonotoneX), "#3a3a3a", 1.1);
  const a = axes(box, x, y, {xt: eTicks, yt: [1e-9, 1e-8, 1e-7]});
  superLabels(a.left);
  txt(10, 419.3, "E", {fs: 12.5, bold: true, fill: "#111"});
  vtitle(16, 488, "Median frequency (log)");
  txt(169, 592.5, "Age of the 1865 cohort", {anchor: "middle"});
  txt(232, 458, "Half life: 73 yrs", {fs: 6.3, fill: "#e8202a", anchor: "middle", rot: 9});
  txt(104.5, 517, "Doubling time: 4 yrs", {fs: 6.2, fill: "#5a60c0", anchor: "middle", rot: -66});
  // inset: doubling time
  {
    const ib = {x0: 68.3, x1: 130, y0: 429.3, y1: 471};
    svg.append("rect").attr("x", ib.x0).attr("y", ib.y0).attr("width", ib.x1 - ib.x0).attr("height", ib.y1 - ib.y0).attr("fill", "#fff");
    const ix = d3.scaleLinear().domain([1795, 1960]).range([ib.x0, ib.x1]);
    const iy = d3.scaleLinear().domain([-0.5, 15.5]).range([ib.y1, ib.y0]);
    const ig = clipGroup(ib);
    ig.append("line").attr("x1", ib.x0).attr("x2", ib.x1).attr("y1", iy(10)).attr("y2", iy(10)).attr("stroke", "#999").attr("stroke-width", 0.5).attr("stroke-dasharray", "1,1");
    ig.append("line").attr("x1", ix(1900)).attr("x2", ix(1900)).attr("y1", ib.y0).attr("y2", ib.y1).attr("stroke", "#999").attr("stroke-width", 0.5).attr("stroke-dasharray", "1,1");
    ig.selectAll("circle").data(eInsetDoubDots).join("circle").attr("cx", d => ix(d[0])).attr("cy", d => iy(d[1]))
      .attr("r", 1.3).attr("fill", "#4a5ab8").attr("opacity", 0.55);
    path(ig, eInsetDoubFit, lineGen(ix, iy, d3.curveMonotoneX), "#2a3a98", 1.8);
    axes(ib, ix, iy, {xt: [1800, 1900], yt: [0, 5, 10], fs: 4.5, tl: 1.5, xpad: 3, ypad: -8, frame: "#444", fw: 0.7, noTopRight: true});
    txt(87.3, 486.5, "Year", {fs: 6.2, anchor: "middle"});
    vtitle(54.5, 453, "Doubling time (yrs)", 5.2);
  }
  // inset: half-life
  {
    const ib = {x0: 216.7, x1: 278.3, y0: 507.3, y1: 548.3};
    svg.append("rect").attr("x", ib.x0).attr("y", ib.y0).attr("width", ib.x1 - ib.x0).attr("height", ib.y1 - ib.y0).attr("fill", "#fff");
    const ix = d3.scaleLinear().domain([1795, 1900]).range([ib.x0, ib.x1]);
    const iy = d3.scaleLinear().domain([0, 190]).range([ib.y1, ib.y0]);
    const ig = clipGroup(ib);
    ig.append("line").attr("x1", ib.x0).attr("x2", ib.x1).attr("y1", iy(100)).attr("y2", iy(100)).attr("stroke", "#999").attr("stroke-width", 0.5).attr("stroke-dasharray", "1,1");
    ig.append("line").attr("x1", ix(1850)).attr("x2", ix(1850)).attr("y1", ib.y0).attr("y2", ib.y1).attr("stroke", "#999").attr("stroke-width", 0.5).attr("stroke-dasharray", "1,1");
    ig.selectAll("circle").data(eInsetHalfDots).join("circle").attr("cx", d => ix(d[0])).attr("cy", d => iy(d[1]))
      .attr("r", 1.2).attr("fill", "#f07070").attr("opacity", 0.6);
    path(ig, eInsetHalfFit, lineGen(ix, iy), "#e8202a", 1.8);
    axes(ib, ix, iy, {xt: [1800, 1900], yt: [0, 100], fs: 4.5, tl: 1.5, xpad: 1.5, ypad: 2.5, frame: "#444", fw: 0.7, noTopRight: true});
    txt(248.3, 557, "Year", {fs: 6.2, anchor: "middle"});
    vtitle(198, 527.5, "Half life (yrs)", 5.2);
  }
}

// ---------- Panel F ----------
{
  const box = {x0: 359, x1: 608, y0: 418, y1: 566};
  const x = d3.scaleLinear().domain([0, 80]).range([box.x0, box.x1]);
  const y = d3.scaleLinear().domain([0, 1.0]).range([box.y1, box.y0]);
  const g = clipGroup(box);
  const gen = lineGen(x, y, d3.curveMonotoneX);
  const fCols = ["#e8233a", "#2e4a9e", "#a040a8", "#1e7b3a", "#30b8b8", "#9a9a9a", "#f0a020"];
  const fData = [fPol, fAuth, fAct, fBio, fArt, fPhys, fMath];
  for (let i = fData.length - 1; i >= 0; i--) path(g, fData[i], gen, fCols[i], 1.2);
  axes(box, x, y, {xt: [0, 10, 20, 30, 40, 50, 60, 70, 80], yt: [0, 0.2, 0.4, 0.6, 0.8, 1.0], yf: d3.format(".1f")});
  txt(372, 414, "1e−6", {fs: 6.8, fill: "#333"});
  txt(321.5, 419.3, "F", {fs: 12.5, bold: true, fill: "#111"});
  vtitle(329, 480, "Median frequency");
  txt(483.5, 592.5, "Age of the cohort", {anchor: "middle"});
  legend(368.5, 380, 383.5, [427.3, 437, 446.7, 456.3, 466, 475.7, 485.5], fNames.map((n, i) => [n, fCols[i]]), 6.2, 1.5);
}

// ---------- Caption ----------
function caption(lines, x0, x1, justifyAll) {
  const CF = "'Liberation Sans Narrow','DejaVu Sans Condensed','Arial Narrow',sans-serif";
  lines.forEach((ln, i) => {
    const t = svg.append("text").attr("x", x0).attr("y", 609.5 + 10.8 * i)
      .attr("font-family", CF).attr("font-size", 8.3).attr("fill", "#1a1a1a").style("font-stretch", "condensed");
    ln.split("**").forEach((seg, k) => { if (seg) t.append("tspan").attr("font-weight", k % 2 ? "bold" : "normal").text(seg); });
    if (justifyAll || i < lines.length - 1) t.attr("textLength", x1 - x0).attr("lengthAdjust", "spacing");
  });
}
caption(capLeft, 8, 306.5, true);
caption(capRight, 321, 634, false);
</script>
</body></html>
